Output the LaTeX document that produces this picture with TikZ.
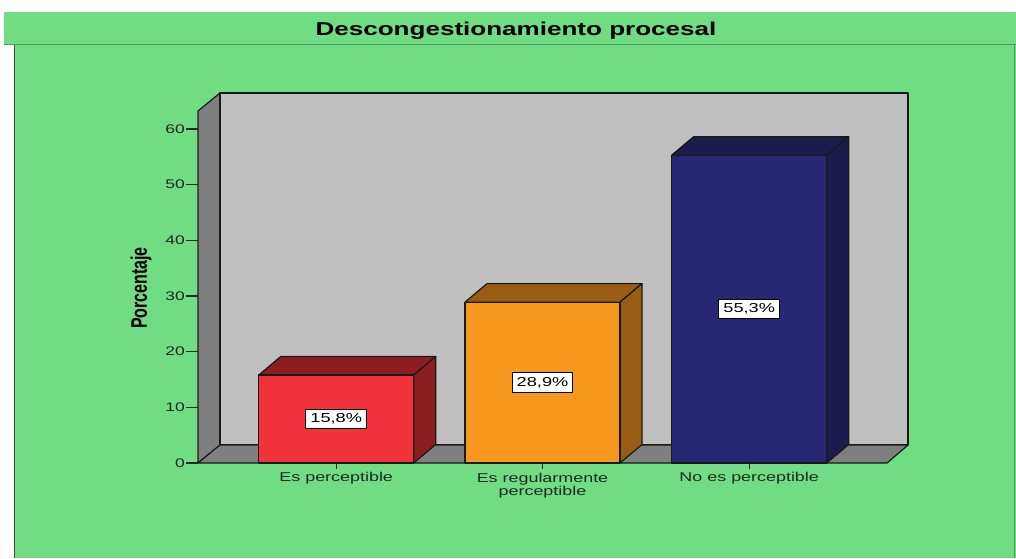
\documentclass[tikz,border=0pt]{standalone}
\usepackage{fontspec}
\setmainfont{Liberation Sans}
\usepackage{graphicx}
\definecolor{bg}{HTML}{70DC84}
\definecolor{bgline}{HTML}{4E9C5E}
\definecolor{wallside}{HTML}{7F7F7F}
\definecolor{wallback}{HTML}{C0C0C0}
\definecolor{redf}{HTML}{F0323C}
\definecolor{redd}{HTML}{8C1E22}
\definecolor{orf}{HTML}{F7981E}
\definecolor{ord}{HTML}{985C12}
\definecolor{blf}{HTML}{272773}
\definecolor{bld}{HTML}{1B1B4C}
\newcommand{\wx}[1]{\scalebox{1.4}[1]{#1}}
\tikzset{
  face/.style={draw=black!90, line width=1.2pt, line join=round},
  ticklbl/.style={font=\fontsize{12.5}{13}\selectfont, text=black!85, inner sep=1pt},
  catlbl/.style={font=\fontsize{12.8}{14}\selectfont, text=black!85, inner sep=0pt, align=center},
  vallbl/.style={draw=black, fill=white, line width=1pt, font=\fontsize{13}{14}\selectfont, inner xsep=4.5pt, inner ysep=4.3pt},
  tick/.style={line width=1.2pt, black!85}
}
\begin{document}
\begin{tikzpicture}[x=1pt,y=-1pt]
\useasboundingbox (0,0) rectangle (1016,558);
\fill[white] (0,0) rectangle (1016,558);
% title band
\fill[bg] (4,12) rectangle (1016,44);
\draw[bgline, line width=1pt] (4,44.5) -- (1016,44.5);
\node[font=\fontsize{18.6}{20}\selectfont\bfseries] (title) at (516,30.5) {\wx{Descongestionamiento procesal}};
% panel
\fill[bg] (14,45) rectangle (1016,558);
\draw[black!70, line width=1.5pt] (14.5,45) -- (14.5,558);
\draw[bgline, line width=0.8pt] (1014.5,45) -- (1014.5,558);
% walls
\filldraw[face, fill=wallside] (198,463) -- (198,111) -- (220,93) -- (220,445) -- cycle;
\filldraw[face, fill=wallback] (220,93) rectangle (908,445);
\filldraw[face, fill=wallside] (198,463) -- (220,445) -- (908,445) -- (887,463) -- cycle;
% y ticks
\foreach \v [count=\i] in {0,10,20,30,40,50,60}{
  \draw[tick] (186,{463-5.567*\v}) -- (198,{463-5.567*\v});
  \node[ticklbl, anchor=east] (yt\i) at (186,{463-5.567*\v}) {\wx{\v}};
}
\node[rotate=90, font=\fontsize{16}{18}\selectfont\bfseries] (ylabel) at (141,288) {\scalebox{1}[1.4]{Porcentaje}};
% bars
\foreach \x/\v/\cf/\cd/\lbl/\n in {258.7/15.8/redf/redd/{15,8\%}/1, 465/28.9/orf/ord/{28,9\%}/2, 671.7/55.3/blf/bld/{55,3\%}/3}{
  \pgfmathsetmacro{\t}{463-5.567*\v}
  \filldraw[face, fill=\cd] (\x,\t) -- (\x+22,\t-18.5) -- (\x+177,\t-18.5) -- (\x+155,\t) -- cycle;
  \filldraw[face, fill=\cd] (\x+155,463) -- (\x+155,\t) -- (\x+177,\t-18.5) -- (\x+177,444.5) -- cycle;
  \filldraw[face, fill=\cf] (\x,463) rectangle (\x+155,\t);
  \node[vallbl] (val\n) at (\x+77.5,{(463+\t)/2}) {\wx{\lbl}};
  \draw[tick] (\x+77.5,463) -- (\x+77.5,469);
}
\node[catlbl] (c1) at (336.2,478.5) {\wx{Es perceptible}};
\node[catlbl] (c2) at (542.5,485.5) {\wx{Es regularmente}\\[-0.5pt]\wx{perceptible}};
\node[catlbl] (c3) at (749.2,478.5) {\wx{No es perceptible}};
\end{tikzpicture}
\end{document}
